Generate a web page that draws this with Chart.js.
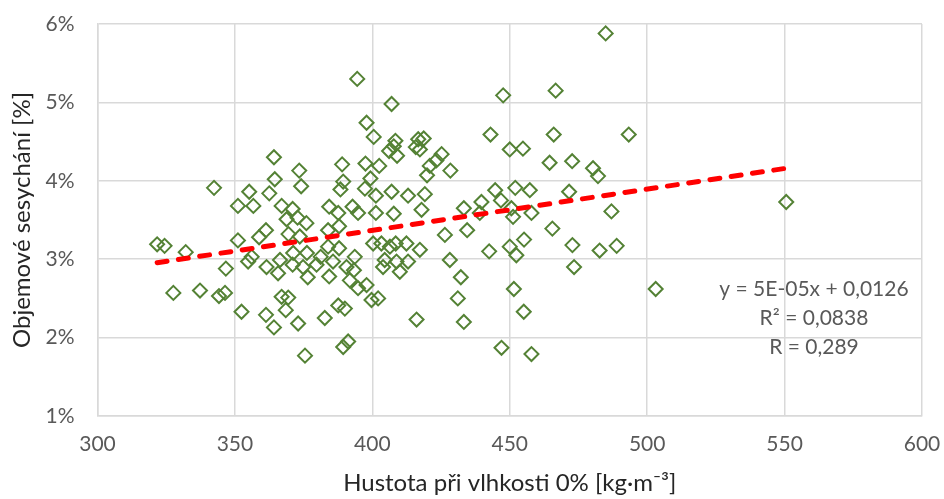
<!DOCTYPE html>
<html>
<head>
<meta charset="utf-8">
<script src="https://cdn.jsdelivr.net/npm/chart.js@4/dist/chart.umd.min.js"></script>
<style>
  html, body { margin: 0; padding: 0; background: #ffffff; }
  #wrap { width: 944px; height: 499px; }
</style>
</head>
<body>
<div id="wrap"><canvas id="c" width="944" height="499"></canvas></div>
<script>
// ---- data ----
const densityX = [
  364.2, 373.4, 342.4, 364.5, 355.2, 362.5, 374.1, 351.1, 356.7, 367.0,
  371.0, 368.8, 372.8, 376.0, 361.3, 358.8, 369.5, 351.1, 321.7, 324.4,
  332.1, 346.7, 356.1, 354.8, 361.5, 365.7, 366.4, 371.2, 371.0, 374.8,
  376.2, 376.5, 327.6, 337.3, 344.2, 346.4, 352.4, 361.3, 364.2, 367.0,
  369.4, 368.5, 373.0, 375.5, 394.5, 407.0, 397.9, 400.5, 408.4, 407.8,
  406.1, 409.0, 416.7, 418.7, 415.8, 417.3, 425.2, 423.3, 420.9, 428.4,
  419.9, 389.0, 397.5, 402.5, 399.3, 389.4, 388.4, 397.3, 401.3, 407.0,
  413.0, 419.1, 384.3, 387.6, 392.8, 394.8, 401.3, 407.8, 417.9, 433.3,
  383.9, 387.9, 426.4, 434.5, 400.3, 403.3, 406.4, 408.5, 412.4, 417.3,
  373.6, 381.2, 379.7, 383.9, 385.7, 387.9, 390.6, 393.6, 393.3, 384.3,
  391.8, 394.8, 397.9, 399.7, 402.1, 404.5, 403.9, 408.8, 410.0, 413.0,
  428.2, 432.2, 431.1, 433.3, 416.1, 387.6, 390.0, 382.7, 391.2, 389.4,
  484.9, 447.6, 466.7, 443.0, 466.0, 493.3, 450.0, 454.8, 464.5, 472.7,
  480.3, 482.1, 444.7, 452.0, 457.3, 471.6, 439.7, 446.8, 439.1, 450.6,
  451.2, 457.9, 487.0, 465.5, 442.5, 450.0, 455.2, 452.4, 472.8, 482.7,
  488.9, 473.4, 451.5, 455.1, 447.0, 457.9, 550.6, 503.1
];
const shrinkageY = [
  4.30, 4.13, 3.91, 4.02, 3.86, 3.84, 3.93, 3.68, 3.68, 3.68,
  3.64, 3.51, 3.53, 3.46, 3.37, 3.28, 3.32, 3.24, 3.19, 3.17,
  3.09, 2.88, 3.03, 2.97, 2.90, 2.82, 2.99, 3.08, 2.93, 2.90,
  3.08, 2.77, 2.57, 2.60, 2.53, 2.57, 2.33, 2.29, 2.13, 2.52,
  2.51, 2.35, 2.18, 1.77, 5.30, 4.98, 4.74, 4.56, 4.51, 4.44,
  4.38, 4.32, 4.53, 4.54, 4.43, 4.40, 4.34, 4.26, 4.19, 4.13,
  4.07, 4.21, 4.22, 4.19, 4.03, 3.99, 3.89, 3.90, 3.81, 3.86,
  3.81, 3.83, 3.67, 3.59, 3.67, 3.59, 3.59, 3.58, 3.63, 3.65,
  3.37, 3.42, 3.31, 3.37, 3.20, 3.20, 3.16, 3.20, 3.20, 3.12,
  3.29, 3.03, 2.93, 3.16, 2.97, 3.14, 2.90, 3.03, 2.86, 2.78,
  2.73, 2.63, 2.67, 2.48, 2.50, 2.99, 2.90, 2.97, 2.84, 2.97,
  2.99, 2.77, 2.50, 2.20, 2.23, 2.41, 2.37, 2.25, 1.95, 1.88,
  5.88, 5.09, 5.15, 4.59, 4.59, 4.59, 4.40, 4.41, 4.23, 4.25,
  4.16, 4.06, 3.88, 3.91, 3.88, 3.86, 3.73, 3.75, 3.59, 3.65,
  3.54, 3.59, 3.61, 3.39, 3.10, 3.16, 3.25, 3.05, 3.18, 3.11,
  3.17, 2.90, 2.62, 2.33, 1.87, 1.79, 3.73, 2.62
];
// linear trend line end points (as drawn in the reference)
const trendX = [321.7, 550.6];
const trendY = [2.955, 4.16];
const trendLabels = ["y = 5E-05x + 0,0126", "R\u00B2 = 0,0838", "R = 0,289"];
const xTicks = [300, 350, 400, 450, 500, 550, 600];
const yTicks = [1, 2, 3, 4, 5, 6];
const xTitle = "Hustota při vlhkosti 0% [kg·m\u207B\u00B3]";
const yTitle = "Objemové sesychání [%]";

const FONT = "Lato, 'Open Sans', sans-serif";

const points = densityX.map((x, i) => ({ x: x, y: shrinkageY[i] }));
const trend = trendX.map((x, i) => ({ x: x, y: trendY[i] }));

const annotationPlugin = {
  id: 'trendText',
  afterDraw(chart) {
    const ctx = chart.ctx;
    const a = chart.chartArea;
    const cx = a.left + (a.right - a.left) * 0.869;
    const cy = a.top + (a.bottom - a.top) * 0.75;
    ctx.save();
    ctx.font = "21px " + FONT;
    ctx.fillStyle = "#595959";
    ctx.textAlign = "center";
    ctx.textBaseline = "middle";
    trendLabels.forEach((t, i) => ctx.fillText(t, cx, cy + (i - 1) * 29));
    ctx.restore();
  }
};

new Chart(document.getElementById('c'), {
  type: 'scatter',
  data: {
    datasets: [
      {
        type: 'line',
        label: 'trend',
        data: trend,
        borderColor: '#ff0000',
        borderWidth: 5,
        borderDash: [10, 11.5],
        borderCapStyle: 'round',
        pointRadius: 0,
        fill: false,
        tension: 0
      },
      {
        label: 'data',
        data: points,
        pointStyle: 'rectRot',
        pointRadius: 7,
        pointHoverRadius: 7,
        pointBorderWidth: 2,
        borderColor: '#548235',
        backgroundColor: 'rgba(0,0,0,0)',
        showLine: false
      }
    ]
  },
  options: {
    responsive: false,
    animation: false,
    devicePixelRatio: 1,
    events: [],
    layout: { padding: { top: 24, right: 22, bottom: 0, left: 0 } },
    plugins: { legend: { display: false }, tooltip: { enabled: false } },
    scales: {
      x: {
        type: 'linear',
        min: 300, max: 600,
        afterBuildTicks: (s) => { s.ticks = xTicks.map(v => ({ value: v })); },
        afterFit: (s) => { s.height = 83; s.paddingLeft = 0; s.paddingRight = 0; },
        grid: { color: '#d9d9d9', lineWidth: 1.5, drawTicks: false },
        border: { color: '#d9d9d9', width: 1.5 },
        ticks: { color: '#595959', font: { family: FONT, size: 21 }, padding: 16 },
        title: { display: true, text: xTitle, color: '#262626', font: { family: FONT, size: 24 }, padding: { top: 0, bottom: 1.5 } }
      },
      y: {
        type: 'linear',
        min: 1, max: 6,
        afterBuildTicks: (s) => { s.ticks = yTicks.map(v => ({ value: v })); },
        afterFit: (s) => { s.width = 97.5; s.paddingTop = 0; s.paddingBottom = 0; },
        grid: { color: '#d9d9d9', lineWidth: 1.5, drawTicks: false },
        border: { color: '#d9d9d9', width: 1.5 },
        ticks: { color: '#595959', font: { family: FONT, size: 21 }, padding: 23, callback: (v) => v + '%' },
        title: { display: true, text: yTitle, color: '#262626', font: { family: FONT, size: 24 }, padding: { top: 7.5, bottom: 0 } }
      }
    }
  },
  plugins: [annotationPlugin]
});
</script>
</body>
</html>
